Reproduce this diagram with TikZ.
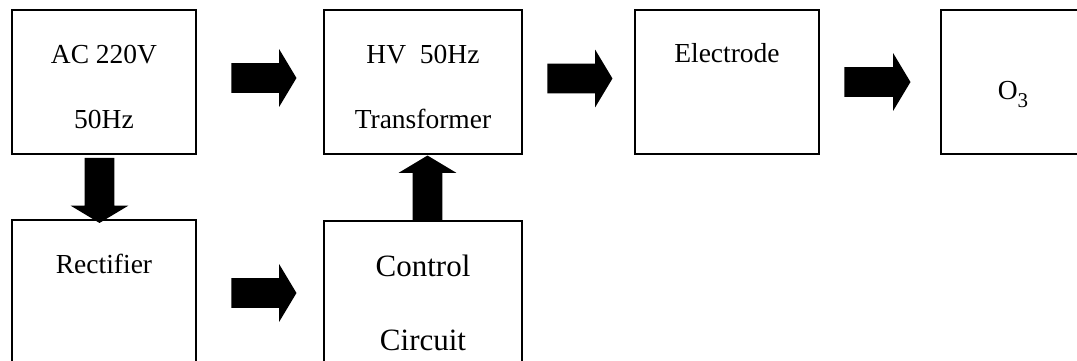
\documentclass[tikz,border=0pt]{standalone}
\usepackage{fontspec}
\setmainfont{Liberation Serif}
\usetikzlibrary{shapes.arrows}
\tikzset{
  blk/.style={draw=black, line width=1.3pt, fill=white, inner sep=0pt},
  lbl/.style={anchor=base, inner sep=0pt, font=\fontsize{27.5}{32}\selectfont},
  biglbl/.style={anchor=base, inner sep=0pt, font=\fontsize{31}{36}\selectfont},
  fat/.style={single arrow, fill=black, draw=none, inner xsep=0pt, inner ysep=14.75pt,
    single arrow head extend=14pt, single arrow tip angle=118, minimum height=65pt,
    minimum width=0pt},
}
\begin{document}
\begin{tikzpicture}[x=1pt,y=1pt]
\useasboundingbox (0,0) rectangle (1077,360);
\clip (0,0) rectangle (1077,360);
% boxes
\node[blk, minimum width=184pt, minimum height=144pt] (ac) at (104,278) {};
\node[blk, minimum width=198pt, minimum height=144pt] (hv) at (423,278) {};
\node[blk, minimum width=184pt, minimum height=144pt] (el) at (727,278) {};
\node[blk, minimum width=184pt, minimum height=144pt] (o3) at (1033,278) {};
\node[blk, minimum width=184pt, minimum height=160pt] (rect) at (104,60) {};
\node[blk, minimum width=198pt, minimum height=160pt] (ctrl) at (423,59) {};
% labels
\node[lbl] (t1) at (104,297) {AC 220V};
\node[lbl] (t2) at (104,232) {50Hz};
\node[lbl] (t3) at (423,297) {HV\ \ 50Hz};
\node[lbl] (t4) at (423,232) {Transformer};
\node[lbl] (t5) at (727,298) {Electrode};
\node[lbl] (t6) at (1013,261) {O\raisebox{-8pt}{\fontsize{21}{21}\selectfont 3}};
\node[lbl] (t7) at (104,87) {Rectifier};
\node[biglbl] (t8) at (423,84) {Control};
\node[biglbl] (t9) at (423,10) {Circuit};
% block arrows
\node[fat] (a1) at (259.5,282) {};
\node[fat] (a2) at (575.5,281.5) {};
\node[fat, minimum height=66pt] (a3) at (873,278) {};
\node[fat] (a4) at (259.5,67) {};
\node[fat, rotate=-90] (a5) at (99.5,174) {};
\node[fat, rotate=90] (a6) at (427.5,167.5) {};
\end{tikzpicture}
\end{document}
